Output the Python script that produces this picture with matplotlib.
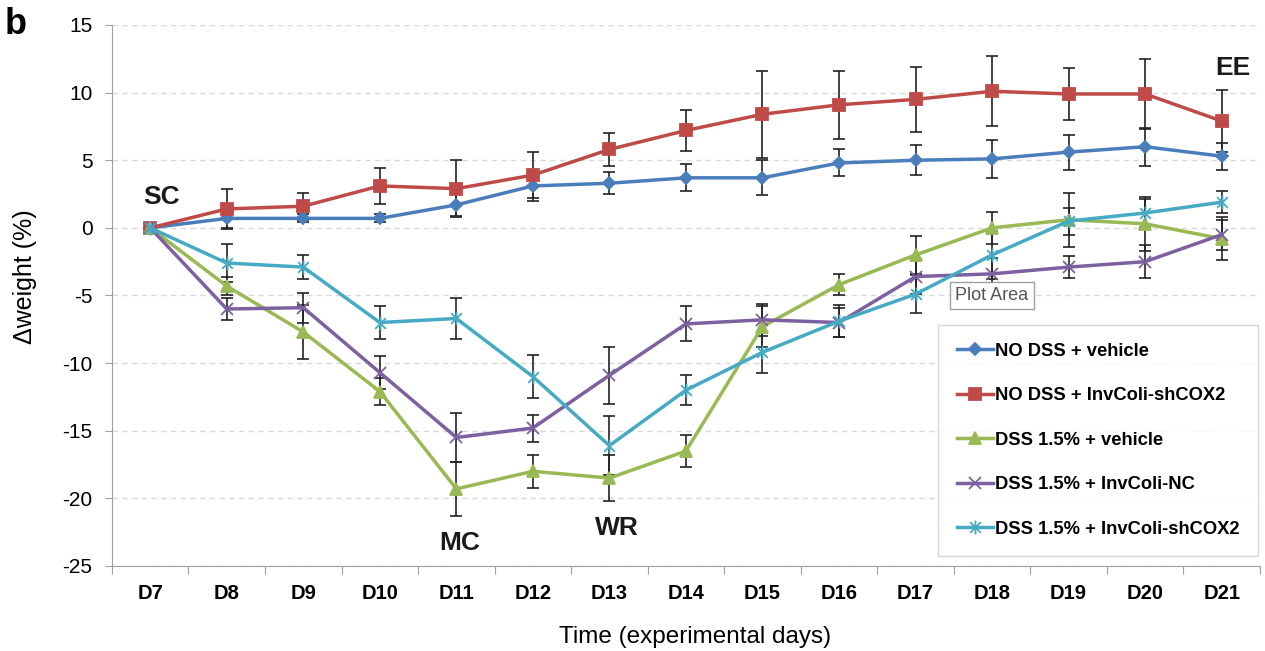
import numpy as np
import matplotlib.pyplot as plt
from matplotlib.path import Path

plt.rcParams['axes.unicode_minus'] = False

days = ['D7', 'D8', 'D9', 'D10', 'D11', 'D12', 'D13', 'D14', 'D15', 'D16', 'D17', 'D18', 'D19', 'D20', 'D21']

# значения (% изменения веса) и ошибки
no_dss_veh = [0, 0.7, 0.7, 0.7, 1.7, 3.1, 3.3, 3.7, 3.7, 4.8, 5.0, 5.1, 5.6, 6.0, 5.3]
no_dss_veh_err = [0, 0.7, 0.3, 0.3, 0.8, 1.1, 0.8, 1.0, 1.3, 1.0, 1.1, 1.4, 1.3, 1.4, 1.0]

no_dss_sh = [0, 1.4, 1.6, 3.1, 2.9, 3.9, 5.8, 7.2, 8.4, 9.1, 9.5, 10.1, 9.9, 9.9, 7.9]
no_dss_sh_err = [0, 1.5, 1.0, 1.3, 2.1, 1.7, 1.2, 1.5, 3.2, 2.5, 2.4, 2.6, 1.9, 2.6, 2.3]

dss_veh = [0, -4.3, -7.7, -12.1, -19.3, -18.0, -18.5, -16.5, -7.3, -4.2, -2.0, 0.0, 0.6, 0.3, -0.8]
dss_veh_err = [0, 0.7, 2.0, 1.0, 2.0, 1.2, 1.7, 1.2, 1.5, 0.8, 1.4, 1.2, 2.0, 2.0, 1.6]

dss_nc = [0, -6.0, -5.9, -10.7, -15.5, -14.8, -10.9, -7.1, -6.8, -7.0, -3.6, -3.4, -2.9, -2.5, -0.5]
dss_nc_err = [0, 0.8, 1.1, 1.2, 1.8, 1.0, 2.1, 1.3, 1.2, 1.1, 1.3, 1.2, 0.8, 1.2, 1.1]

dss_sh = [0, -2.6, -2.9, -7.0, -6.7, -11.0, -16.1, -12.0, -9.2, -6.9, -4.9, -2.0, 0.5, 1.1, 1.9]
dss_sh_err = [0, 1.4, 0.9, 1.2, 1.5, 1.6, 2.2, 1.1, 1.5, 1.2, 1.4, 1.8, 1.0, 1.0, 0.8]

# маркер-звёздочка как в Excel (x + вертикальная черта)
star = Path([(-1, -1), (1, 1), (-1, 1), (1, -1), (0, -1.3), (0, 1.3)],
            [Path.MOVETO, Path.LINETO, Path.MOVETO, Path.LINETO, Path.MOVETO, Path.LINETO])

series = [
    (no_dss_veh, no_dss_veh_err, 'NO DSS + vehicle', '#4a7ebb', 'D', 6),
    (no_dss_sh, no_dss_sh_err, 'NO DSS + InvColi-shCOX2', '#be4b48', 's', 8),
    (dss_veh, dss_veh_err, 'DSS 1.5% + vehicle', '#98b954', '^', 8),
    (dss_nc, dss_nc_err, 'DSS 1.5% + InvColi-NC', '#7d60a0', 'x', 8),
    (dss_sh, dss_sh_err, 'DSS 1.5% + InvColi-shCOX2', '#46aac5', star, 10),
]

fig = plt.figure(figsize=(12.65, 6.51), dpi=100)
ax = fig.add_axes([0.0885, 0.1306, 0.9075, 0.831])
x = np.arange(len(days))

for y, e, lab, c, m, ms in series:
    ax.errorbar(x, y, yerr=e, fmt='none', ecolor='#222222', elinewidth=1.2,
                capsize=4, capthick=1.2, zorder=3)
    ax.plot(x, y, color=c, lw=2.5, marker=m, ms=ms, mew=1.3,
            mec=c, mfc=c, label=lab, zorder=4)

ax.set_xlim(-0.5, len(days) - 0.5)
ax.set_ylim(-25, 15)
ax.set_yticks(np.arange(-25, 16, 5))
ax.grid(axis='y', ls=(0, (4, 3)), color='#d9d9d9', lw=1)
ax.set_axisbelow(True)

ax.set_xticks(np.arange(-0.5, len(days), 1))
ax.set_xticklabels([])
ax.set_xticks(x, minor=True)
ax.set_xticklabels(days, minor=True, fontsize=14.5, fontweight='bold',
                   family=['Liberation Sans Narrow', 'Liberation Sans'])
ax.tick_params(axis='x', which='minor', length=0, pad=13)
ax.tick_params(axis='x', which='major', length=6, color='#a0a0a0')
ax.tick_params(axis='y', length=5, color='#a0a0a0', labelsize=15, pad=9)
for lbl in ax.get_yticklabels():
    lbl.set_family('Liberation Sans')

for s in ['top', 'right']:
    ax.spines[s].set_visible(False)
for s in ['left', 'bottom']:
    ax.spines[s].set_color('#a0a0a0')

# подписи осей
fig.text(25 / 1265, 1 - 277 / 651, 'Δweight (%)', fontsize=18, family='Liberation Sans',
         rotation=90, ha='center', va='center')
fig.text(695 / 1265, 1 - 637 / 651, 'Time (experimental days)', fontsize=17.5,
         family='Liberation Sans', ha='center', va='center')

kw = dict(fontsize=19, fontweight='bold', family='Liberation Sans', color='#1a1a1a', ha='center', va='center')
ax.text(0.15, 2.3, 'SC', **kw)
ax.text(4.05, -23.3, 'MC', **kw)
ax.text(6.1, -22.2, 'WR', **kw)
ax.text(14.15, 11.8, 'EE', **kw)
fig.text(0.004, 0.962, 'b', fontsize=26, fontweight='bold', family='Liberation Sans', va='center')

ax.text(10.52, -5.0, 'Plot Area', fontsize=13, color='#555555', family='Liberation Sans', va='center',
        bbox=dict(boxstyle='square,pad=0.3', fc='white', ec='#a0a0a0', lw=1), zorder=6)

leg = ax.legend(loc='lower right', bbox_to_anchor=(0.9985, 0.018), borderaxespad=0, frameon=True,
                fancybox=False, edgecolor='#cccccc', handlelength=2.0, handletextpad=0.1,
                labelspacing=1.5, borderpad=1.0,
                prop={'family': 'Liberation Sans', 'weight': 'bold', 'size': 13.2})
leg.get_frame().set_linewidth(1)

plt.savefig('out.png', dpi=100)
